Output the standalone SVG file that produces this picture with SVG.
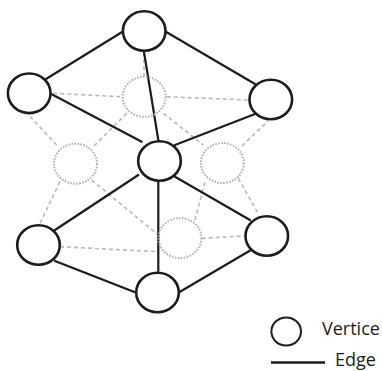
<svg xmlns="http://www.w3.org/2000/svg" width="382" height="371" viewBox="0 0 382 371">
<style>
.bg{fill:#ffffff}
.edge{stroke:#1c1c1c;stroke-width:2.2;stroke-linecap:round;fill:none}
.hid{stroke:#b8b8b8;stroke-width:1.6;stroke-dasharray:4 3;fill:none}
.v{fill:#ffffff;stroke:#1c1c1c;stroke-width:2.6}
.hv{fill:none;stroke:#b0b0b0;stroke-width:2;stroke-dasharray:1.6 1.4}
.lbl{font-family:"Open Sans","Noto Sans",sans-serif;font-size:18px;fill:#1c1c1c}
</style>
<rect class="bg" x="0" y="0" width="382" height="371"/>
<g id="connectors">
  <g id="hidden-edges">
    <line class="hid" x1="53.3" y1="93.3" x2="121.7" y2="96.7"/>
    <line class="hid" x1="166.7" y1="96.7" x2="248" y2="100"/>
    <line class="hid" x1="144" y1="52" x2="144" y2="76"/>
    <line class="hid" x1="126.7" y1="113.3" x2="93.3" y2="146.7"/>
    <line class="hid" x1="163.3" y1="113.3" x2="203.3" y2="145"/>
    <line class="hid" x1="30" y1="116.5" x2="58.3" y2="146.7"/>
    <line class="hid" x1="60" y1="181.7" x2="40" y2="223.3"/>
    <line class="hid" x1="91.7" y1="180" x2="158.3" y2="235"/>
    <line class="hid" x1="60" y1="246.7" x2="158.3" y2="251.7"/>
    <line class="hid" x1="201.7" y1="238.3" x2="244.5" y2="236"/>
    <line class="hid" x1="195" y1="220" x2="205" y2="181.7"/>
    <line class="hid" x1="238.3" y1="178.3" x2="259" y2="215"/>
    <line class="hid" x1="242" y1="146" x2="268" y2="121"/>
  </g>
  <g id="edges">
    <line class="edge" x1="121.7" y1="32.3" x2="46" y2="79"/>
    <line class="edge" x1="166.7" y1="32.3" x2="255" y2="84"/>
    <line class="edge" x1="144" y1="52" x2="158.3" y2="140"/>
    <line class="edge" x1="51.7" y1="94.3" x2="141.7" y2="141.7"/>
    <line class="edge" x1="175" y1="145" x2="255" y2="114"/>
    <line class="edge" x1="138.3" y1="175" x2="55" y2="230"/>
    <line class="edge" x1="158.3" y1="182" x2="158.3" y2="271"/>
    <line class="edge" x1="175" y1="176.7" x2="250" y2="220"/>
    <line class="edge" x1="55" y1="261" x2="135" y2="292.3"/>
    <line class="edge" x1="180" y1="291.7" x2="251" y2="250"/>
  </g>
</g>
<g id="hidden-vertex-top"><ellipse class="hv" cx="144.2" cy="96.8" rx="21.5" ry="20"/></g>
<g id="hidden-vertex-left"><ellipse class="hv" cx="75.5" cy="163.7" rx="21.5" ry="20"/></g>
<g id="hidden-vertex-right"><ellipse class="hv" cx="222.4" cy="163" rx="21.5" ry="20"/></g>
<g id="hidden-vertex-bottom"><ellipse class="hv" cx="180" cy="238" rx="21.5" ry="20"/></g>
<g id="vertex-top"><ellipse class="v" cx="144.2" cy="31" rx="21.3" ry="19.8"/></g>
<g id="vertex-left"><ellipse class="v" cx="29.2" cy="93.3" rx="21.3" ry="19.8"/></g>
<g id="vertex-right"><ellipse class="v" cx="270.8" cy="99.5" rx="21.3" ry="19.8"/></g>
<g id="vertex-center"><ellipse class="v" cx="159.5" cy="161" rx="21.3" ry="19.8"/></g>
<g id="vertex-bottom-left"><ellipse class="v" cx="38.5" cy="245" rx="21.3" ry="19.8"/></g>
<g id="vertex-bottom"><ellipse class="v" cx="157.5" cy="292.5" rx="21.3" ry="19.8"/></g>
<g id="vertex-bottom-right"><ellipse class="v" cx="266.8" cy="236" rx="21.3" ry="19.8"/></g>
<g id="legend">
  <ellipse cx="286.2" cy="331.5" rx="14.8" ry="14" fill="#ffffff" stroke="#1c1c1c" stroke-width="2"/>
  <text class="lbl" x="322" y="334.5">Vertice</text>
  <line x1="271" y1="362.5" x2="325" y2="362.5" stroke="#1c1c1c" stroke-width="2.6"/>
  <text class="lbl" x="335" y="366">Edge</text>
</g>
</svg>
